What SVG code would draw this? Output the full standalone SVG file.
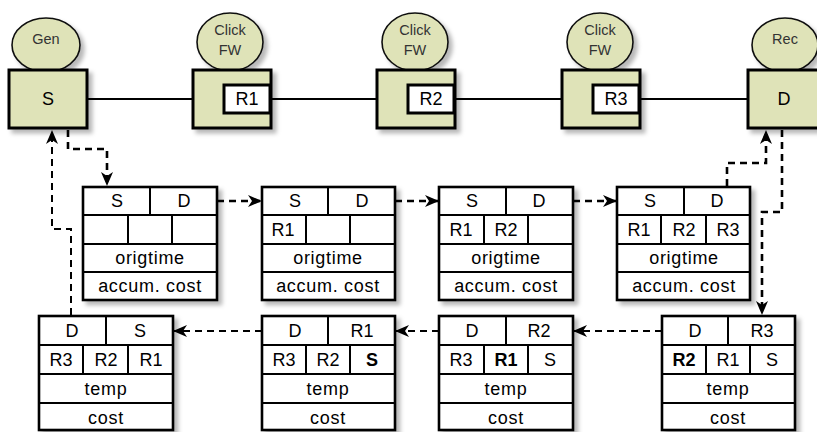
<svg xmlns="http://www.w3.org/2000/svg" width="817" height="432" viewBox="0 0 817 432">
<style>
.bg{fill:#ffffff}
.nb{fill:#dfe3b8;stroke:#000;stroke-width:3}
.el{fill:#dfe3b8;stroke:#111;stroke-width:1.6}
.ib{fill:#fff;stroke:#000;stroke-width:3}
.tb{fill:#fff;stroke:#000;stroke-width:2.6}
.ln{stroke:#000;stroke-width:2.2;fill:none}
.t{font-family:"Liberation Sans",Arial,sans-serif;font-size:18px;fill:#000;text-anchor:middle}
.l{letter-spacing:0.7px}
.s{font-family:"Liberation Sans",Arial,sans-serif;font-size:14.5px;fill:#333;text-anchor:middle}
.b{font-weight:bold}
.w{stroke:#000;stroke-width:2;fill:none}
.d{stroke:#000;stroke-width:2.6;fill:none;stroke-dasharray:7 5}
.d2{stroke:#000;stroke-width:2;fill:none;stroke-dasharray:7 5}
</style>
<defs>
<filter id="sh" x="-10%" y="-10%" width="130%" height="130%">
<feDropShadow dx="4" dy="4" stdDeviation="2" flood-color="#000" flood-opacity="0.28"/>
</filter>
<marker id="ar" viewBox="0 0 14 12" markerWidth="14" markerHeight="12" refX="13" refY="6" orient="auto" markerUnits="userSpaceOnUse">
<path d="M0,0 L14,6 L0,12 L4,6 Z" fill="#000"/>
</marker>
</defs>
<rect class="bg" x="0" y="0" width="817" height="432"/>

<g id="connectors">
<line class="ln" x1="87" y1="99" x2="193" y2="99"/>
<line class="ln" x1="270" y1="99" x2="377" y2="99"/>
<line class="ln" x1="454" y1="99" x2="562" y2="99"/>
<line class="ln" x1="639" y1="99" x2="748" y2="99"/>
<path class="d" d="M68,130 V149 H107 V185" marker-end="url(#ar)"/>
<path class="d" d="M217,201 H261" marker-end="url(#ar)"/>
<path class="d" d="M395,201 H438" marker-end="url(#ar)"/>
<path class="d" d="M573,201 H616" marker-end="url(#ar)"/>
<path class="d" d="M727,186 V163 H766 V131" marker-end="url(#ar)"/>
<path class="d" d="M782,130 V212 H762 V314" marker-end="url(#ar)"/>
<path class="d2" d="M662,331 H574" marker-end="url(#ar)"/>
<path class="d2" d="M439,331 H396" marker-end="url(#ar)"/>
<path class="d2" d="M262,331 H174" marker-end="url(#ar)"/>
<path class="d2" d="M71,315 V229 H52 V131" marker-end="url(#ar)"/>
</g>

<g id="gen">
<ellipse class="el" cx="46" cy="45" rx="34" ry="27" filter="url(#sh)"/>
<text class="s" x="46" y="44">Gen</text>
</g>
<g id="S">
<rect class="nb" x="9" y="70" width="78" height="58" filter="url(#sh)"/>
<text class="t" x="48" y="105">S</text>
</g>

<g id="click1">
<ellipse class="el" cx="230" cy="42" rx="33" ry="29" filter="url(#sh)"/>
<text class="s" x="230" y="35">Click</text>
<text class="s" x="230" y="55">FW</text>
</g>
<g id="R1">
<rect class="nb" x="193" y="70" width="78" height="58" filter="url(#sh)"/>
<rect class="ib" x="224" y="85" width="46" height="28"/>
<text class="t" x="247" y="105">R1</text>
</g>

<g id="click2">
<ellipse class="el" cx="415" cy="42" rx="33" ry="29" filter="url(#sh)"/>
<text class="s" x="415" y="35">Click</text>
<text class="s" x="415" y="55">FW</text>
</g>
<g id="R2">
<rect class="nb" x="377" y="70" width="78" height="58" filter="url(#sh)"/>
<rect class="ib" x="408" y="85" width="46" height="28"/>
<text class="t" x="431" y="105">R2</text>
</g>

<g id="click3">
<ellipse class="el" cx="600" cy="42" rx="33" ry="29" filter="url(#sh)"/>
<text class="s" x="600" y="35">Click</text>
<text class="s" x="600" y="55">FW</text>
</g>
<g id="R3">
<rect class="nb" x="562" y="70" width="78" height="58" filter="url(#sh)"/>
<rect class="ib" x="593" y="85" width="46" height="28"/>
<text class="t" x="616" y="105">R3</text>
</g>

<g id="rec">
<ellipse class="el" cx="785" cy="45" rx="33" ry="27" filter="url(#sh)"/>
<text class="s" x="785" y="44">Rec</text>
</g>
<g id="D">
<rect class="nb" x="748" y="70" width="78" height="58" filter="url(#sh)"/>
<text class="t" x="784" y="105">D</text>
</g>

<!-- top tables -->
<g id="pkt1">
<rect class="tb" x="83" y="187" width="134" height="113" filter="url(#sh)"/>
<path class="w" d="M83,215 H217 M83,244 H217 M83,272 H217 M150,187 V215 M128,215 V244 M172,215 V244"/>
<text class="t" x="117" y="207">S</text><text class="t" x="184" y="207">D</text>
<text class="t l" x="150" y="264">origtime</text>
<text class="t l" x="150" y="292">accum. cost</text>
</g>
<g id="pkt2">
<rect class="tb" x="262" y="187" width="133" height="113" filter="url(#sh)"/>
<path class="w" d="M262,215 H395 M262,244 H395 M262,272 H395 M328,187 V215 M306,215 V244 M350,215 V244"/>
<text class="t" x="295" y="207">S</text><text class="t" x="362" y="207">D</text>
<text class="t" x="283" y="236">R1</text>
<text class="t l" x="328" y="264">origtime</text>
<text class="t l" x="328" y="292">accum. cost</text>
</g>
<g id="pkt3">
<rect class="tb" x="439" y="187" width="134" height="113" filter="url(#sh)"/>
<path class="w" d="M439,215 H573 M439,244 H573 M439,272 H573 M506,187 V215 M484,215 V244 M528,215 V244"/>
<text class="t" x="472" y="207">S</text><text class="t" x="539" y="207">D</text>
<text class="t" x="461" y="236">R1</text><text class="t" x="506" y="236">R2</text>
<text class="t l" x="506" y="264">origtime</text>
<text class="t l" x="506" y="292">accum. cost</text>
</g>
<g id="pkt4">
<rect class="tb" x="617" y="187" width="133" height="113" filter="url(#sh)"/>
<path class="w" d="M617,215 H750 M617,244 H750 M617,272 H750 M684,187 V215 M661,215 V244 M706,215 V244"/>
<text class="t" x="650" y="207">S</text><text class="t" x="717" y="207">D</text>
<text class="t" x="639" y="236">R1</text><text class="t" x="684" y="236">R2</text><text class="t" x="728" y="236">R3</text>
<text class="t l" x="684" y="264">origtime</text>
<text class="t l" x="684" y="292">accum. cost</text>
</g>

<!-- bottom tables -->
<g id="ack1">
<rect class="tb" x="39" y="316" width="134" height="114" filter="url(#sh)"/>
<path class="w" d="M39,345 H173 M39,374 H173 M39,403 H173 M106,316 V345 M83,345 V374 M128,345 V374"/>
<text class="t" x="72" y="337">D</text><text class="t" x="140" y="337">S</text>
<text class="t" x="61" y="366">R3</text><text class="t" x="106" y="366">R2</text><text class="t" x="151" y="366">R1</text>
<text class="t l" x="106" y="395">temp</text>
<text class="t l" x="106" y="424">cost</text>
</g>
<g id="ack2">
<rect class="tb" x="262" y="316" width="133" height="114" filter="url(#sh)"/>
<path class="w" d="M262,345 H395 M262,374 H395 M262,403 H395 M328,316 V345 M306,345 V374 M350,345 V374"/>
<text class="t" x="295" y="337">D</text><text class="t" x="362" y="337">R1</text>
<text class="t" x="284" y="366">R3</text><text class="t" x="328" y="366">R2</text><text class="t b" x="372" y="366">S</text>
<text class="t l" x="328" y="395">temp</text>
<text class="t l" x="328" y="424">cost</text>
</g>
<g id="ack3">
<rect class="tb" x="439" y="316" width="134" height="114" filter="url(#sh)"/>
<path class="w" d="M439,345 H573 M439,374 H573 M439,403 H573 M506,316 V345 M484,345 V374 M528,345 V374"/>
<text class="t" x="472" y="337">D</text><text class="t" x="539" y="337">R2</text>
<text class="t" x="461" y="366">R3</text><text class="t b" x="506" y="366">R1</text><text class="t" x="550" y="366">S</text>
<text class="t l" x="506" y="395">temp</text>
<text class="t l" x="506" y="424">cost</text>
</g>
<g id="ack4">
<rect class="tb" x="662" y="316" width="133" height="114" filter="url(#sh)"/>
<path class="w" d="M662,345 H795 M662,374 H795 M662,403 H795 M728,316 V345 M706,345 V374 M750,345 V374"/>
<text class="t" x="695" y="337">D</text><text class="t" x="762" y="337">R3</text>
<text class="t b" x="684" y="366">R2</text><text class="t" x="728" y="366">R1</text><text class="t" x="772" y="366">S</text>
<text class="t l" x="728" y="395">temp</text>
<text class="t l" x="728" y="424">cost</text>
</g>
</svg>
